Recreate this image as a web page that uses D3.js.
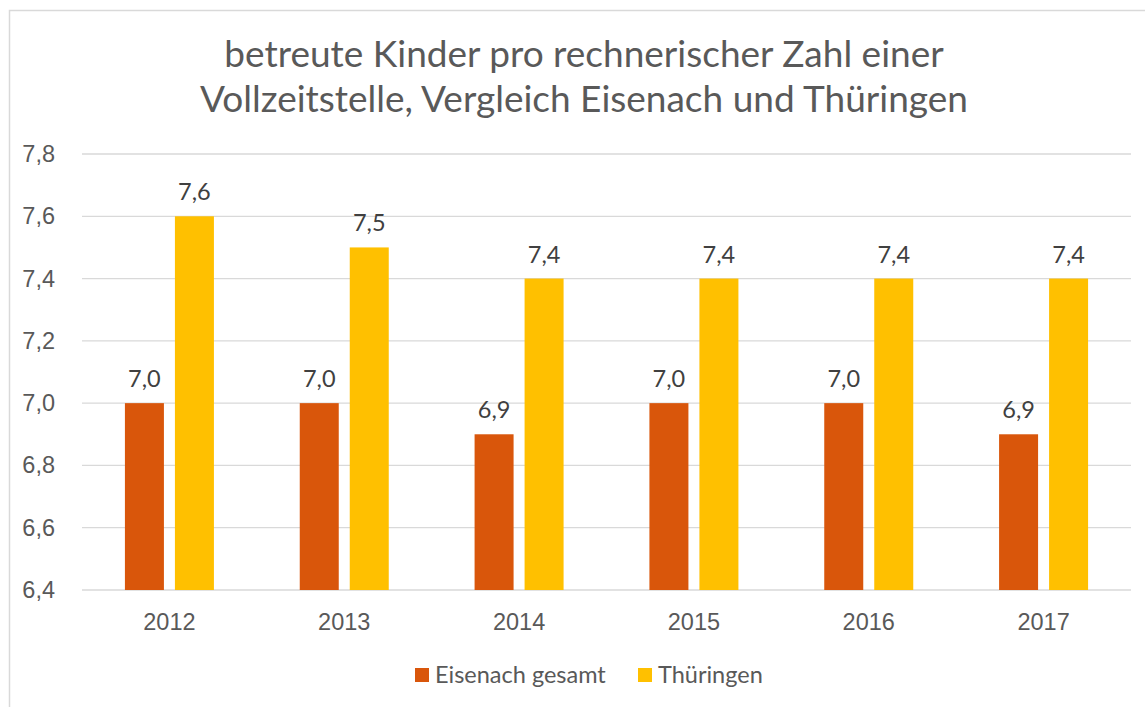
<!DOCTYPE html>
<meta charset="utf-8" />
<style>
  body { margin: 0; background: #fff; }
  svg { font-family: Lato, "Open Sans", sans-serif; }
  .grid line { stroke: #d9d9d9; stroke-width: 1.3px; }
  .axis text { fill: #595959; font-size: 23.5px; }
  .lbl { fill: #404040; font-size: 23.5px; }
</style>
<body>
<script src="https://d3js.org/d3.v7.min.js"></script>
<script>

// chart data
var years = ["2012", "2013", "2014", "2015", "2016", "2017"];
var eisenach = [7.0, 7.0, 6.9, 7.0, 7.0, 6.9];
var thueringen = [7.6, 7.5, 7.4, 7.4, 7.4, 7.4];
var seriesNames = ["Eisenach gesamt", "Thüringen"];
var yTicks = [6.4, 6.6, 6.8, 7.0, 7.2, 7.4, 7.6, 7.8];
var titleLines = ["betreute Kinder pro rechnerischer Zahl einer",
                  "Vollzeitstelle, Vergleich Eisenach und Thüringen"];

var colors = ["#d9560b", "#ffc000"];
var W = 1145, H = 707;
var margin = {top: 154, right: 14, bottom: 117, left: 82},
    width = W - margin.left - margin.right,
    height = H - margin.top - margin.bottom;

var svg = d3.select("body").append("svg")
    .attr("width", W)
    .attr("height", H);

// outer frame
svg.append("rect")
    .attr("x", 9.5).attr("y", 10.5)
    .attr("width", W + 20).attr("height", H + 20)
    .attr("fill", "none")
    .attr("stroke", "#d9d9d9")
    .attr("stroke-width", 1.5);

// title
svg.append("text")
    .attr("text-anchor", "middle")
    .attr("fill", "#595959")
    .style("font-size", "37px")
    .selectAll("tspan")
    .data(titleLines)
    .enter().append("tspan")
    .attr("x", 584)
    .attr("y", function(d, i) { return 67 + i * 44.5; })
    .text(function(d) { return d; });

var g = svg.append("g")
    .attr("transform", "translate(" + margin.left + "," + margin.top + ")");

var x = d3.scaleBand().domain(years).range([0, width]);
var x1 = d3.scaleBand().domain([0, 1]).range([0, 89]).paddingInner(0.22);
var y = d3.scaleLinear().domain([6.4, 7.8]).range([height, 0]);

// gridlines
g.append("g")
    .attr("class", "grid")
    .selectAll("line")
    .data(yTicks)
    .enter().append("line")
    .attr("x1", 0).attr("x2", width)
    .attr("y1", function(d) { return y(d); })
    .attr("y2", function(d) { return y(d); });

// y axis
var yAxis = g.append("g")
    .attr("class", "axis")
    .attr("transform", "translate(-24,0)")
    .call(d3.axisLeft(y).tickValues(yTicks).tickSize(0)
        .tickFormat(function(d) { return d3.format(".1f")(d).replace(".", ","); }));
yAxis.select(".domain").remove();

// x axis
var xAxis = g.append("g")
    .attr("class", "axis")
    .attr("transform", "translate(0," + (height + 20) + ")")
    .call(d3.axisBottom(x).tickSize(0));
xAxis.select(".domain").remove();

var series = [eisenach, thueringen];
var off = (x.bandwidth() - 89) / 2;

series.forEach(function(vals, si) {
  var grp = g.append("g");
  grp.selectAll("rect")
      .data(vals)
      .enter().append("rect")
      .attr("x", function(d, i) { return x(years[i]) + off + x1(si); })
      .attr("width", x1.bandwidth())
      .attr("y", function(d) { return y(d); })
      .attr("height", function(d) { return height - y(d); })
      .attr("fill", colors[si]);
  grp.selectAll("text")
      .data(vals)
      .enter().append("text")
      .attr("class", "lbl")
      .attr("text-anchor", "middle")
      .attr("x", function(d, i) { return x(years[i]) + off + x1(si) + x1.bandwidth() / 2; })
      .attr("y", function(d) { return y(d) - 16; })
      .text(function(d) { return d3.format(".1f")(d).replace(".", ","); });
});

// legend
var legendX = [415, 638];
var leg = svg.append("g");
seriesNames.forEach(function(name, i) {
  leg.append("rect")
      .attr("x", legendX[i]).attr("y", 668)
      .attr("width", 14).attr("height", 14)
      .attr("fill", colors[i]);
  leg.append("text")
      .attr("x", legendX[i] + 20).attr("y", 683)
      .attr("fill", "#595959")
      .style("font-size", "23.5px")
      .text(name);
});

</script>
</body>
